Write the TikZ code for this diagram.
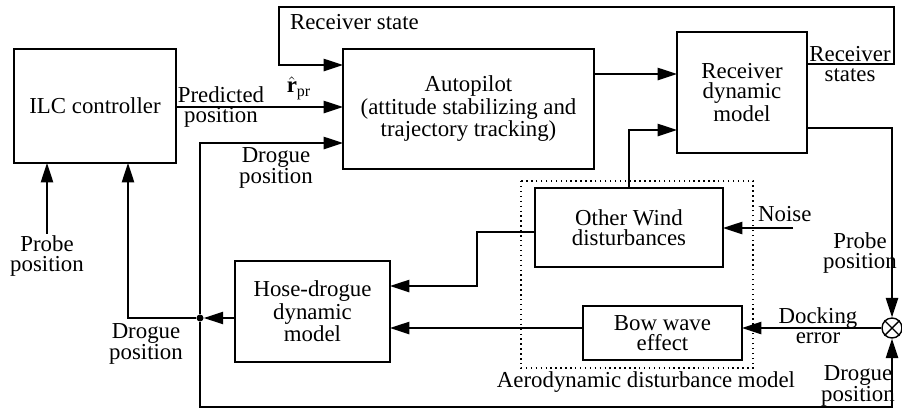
\documentclass[tikz,border=0pt]{standalone}
\usepackage{fontspec}
\setmainfont{Liberation Serif}
\usetikzlibrary{arrows.meta, calc, positioning}
\tikzset{
	block/.style={draw, line width=0.8pt, align=center, inner sep=0pt, outer sep=0pt},
	wire/.style={line width=0.8pt},
	arr/.style={wire, -{Triangle[length=11pt, width=7pt]}},
	lbl/.style={align=center, inner sep=1pt},
	dot/.style={circle, fill, inner sep=0pt, minimum size=4pt},
}
\begin{document}
\begin{tikzpicture}[x=0.02cm, y=-0.02cm, font=\fontsize{13}{11.4}\selectfont]
	\useasboundingbox (0,0) rectangle (902,410);

	%%%% blocks
	\node[block, minimum width=3.24cm, minimum height=2.28cm] (ilc) at (95,106) {ILC controller};
	\node[block, minimum width=5.02cm, minimum height=2.4cm] (auto) at (468.5,109) {Autopilot\\(attitude stabilizing and\\trajectory tracking)};
	\node[block, minimum width=2.6cm, minimum height=2.42cm] (rdm) at (742,92.5) {Receiver\\dynamic\\model};
	\node[block, minimum width=3.76cm, minimum height=1.58cm] (wind) at (629,227.5) {Other Wind\\disturbances};
	\node[block, minimum width=3.18cm, minimum height=1.08cm] (bow) at (662.5,333) {Bow wave\\effect};
	\node[block, minimum width=3.1cm, minimum height=2.02cm] (hose) at (312.5,311.5) {Hose-drogue\\dynamic\\model};
	\node[draw, wire, circle, minimum size=0.4cm, inner sep=0pt] (sum) at (892,328) {};
	\draw[wire] (sum.45) -- (sum.225) (sum.135) -- (sum.315);
	\node[dot] (jd) at (200,318) {};

	%%%% aerodynamic disturbance model
	\draw[wire, dotted] (521,181) rectangle (753,368);
	\node[lbl] (aero) at (646,382) {Aerodynamic disturbance model};

	%%%% connectors
	\node[lbl] (probeL) at (47,256) {Probe\\position};
	\draw[arr] (probeL.north) -- (probeL.north |- ilc.south);
	\draw[arr] (jd) -| ($(ilc.south)+(33,0)$);
	\draw[arr] (jd) |- ($(auto.west)+(0,34)$);
	\draw[arr] (hose.west |- jd) -- (jd);
	\draw[arr] (jd) -- ++(0,89) -| (sum.south);
	\draw[arr] (sum.west) -- (bow.east |- sum.west);
	\draw[arr] (bow.west |- sum.west) -- (hose.east |- sum.west);
	\draw[arr] ($(wind.west)+(0,4.5)$) -- ++(-58,0) |- ($(hose.east)+(0,-25.5)$);
	\coordinate (noisein) at (793,228);
	\draw[arr] (noisein) -- (wind.east |- noisein);
	\draw[arr] (wind.north) |- ($(rdm.west)+(0,37.5)$);
	\draw[arr] ($(auto.east)+(0,-35)$) coordinate (a2r) -- (rdm.west |- a2r);
	\draw[arr] ($(ilc.east)+(0,1)$) coordinate (i2a) -- (auto.west |- i2a);
	%%% receiver state loop
	\coordinate (rstop) at (279,7);
	\draw[arr] ($(rdm.east)+(0,-28.5)$) -- ++(87,0) |- (rstop) |- ($(auto.west)+(0,-44)$);
	\draw[arr] ($(rdm.east)+(0,35.5)$) -| (sum.north);

	%%%% labels
	\node[lbl, anchor=west] at (288,22) {Receiver state};
	\node[lbl] at (850,64) {Receiver\\states};
	\node[lbl] at (221,107) {Predicted\\position};
	\node[lbl] at (299,88) {$\hat{\textbf{r}}_{\mathrm{pr}}$};
	\node[lbl] at (276,168) {Drogue\\position};
	\node[lbl] at (146,344) {Drogue\\position};
	\node[lbl] at (818,326) {Docking\\error};
	\node[lbl] at (860,253) {Probe\\position};
	\node[lbl] at (858,386) {Drogue\\position};
	\node[lbl, anchor=west] at (756,214) {Noise};
\end{tikzpicture}
\end{document}
